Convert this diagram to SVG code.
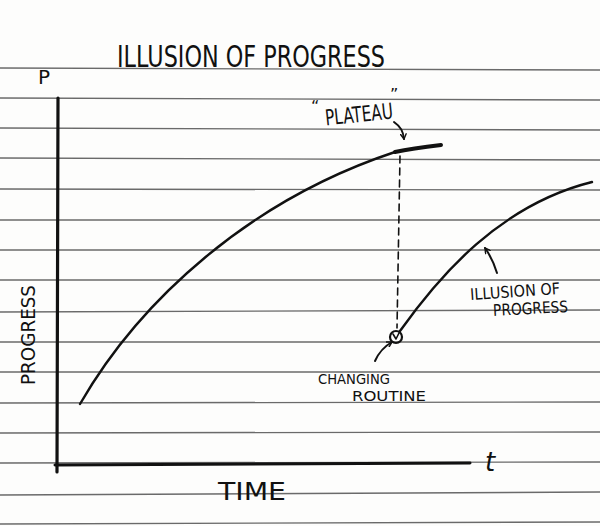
<svg xmlns="http://www.w3.org/2000/svg" width="600" height="526" viewBox="0 0 600 526">
<defs>
<style>
.rule{stroke:#6a6a6a;stroke-width:1.4;fill:none}
.ink{stroke:#111;fill:none;stroke-linecap:round;stroke-linejoin:round}
.txt{font-family:"DejaVu Sans","Liberation Sans",sans-serif;fill:#111}
</style>
<marker id="ah" viewBox="0 0 10 10" refX="8" refY="5" markerWidth="7" markerHeight="7" orient="auto" markerUnits="userSpaceOnUse">
<path d="M1,1 L8,5 L1,9" fill="none" stroke="#111" stroke-width="2" stroke-linecap="round"/>
</marker>
</defs>
<rect width="600" height="526" fill="#fdfdfc"/>
<g id="paper-lines">
<line class="rule" x1="0" y1="68" x2="600" y2="70"/>
<line class="rule" x1="0" y1="98" x2="600" y2="100"/>
<line class="rule" x1="0" y1="128" x2="600" y2="130"/>
<line class="rule" x1="0" y1="158" x2="600" y2="160"/>
<line class="rule" x1="0" y1="189" x2="600" y2="190"/>
<line class="rule" x1="0" y1="220" x2="600" y2="220"/>
<line class="rule" x1="0" y1="250" x2="600" y2="250"/>
<line class="rule" x1="0" y1="280" x2="600" y2="280"/>
<line class="rule" x1="0" y1="312" x2="600" y2="310"/>
<line class="rule" x1="0" y1="342" x2="600" y2="342"/>
<line class="rule" x1="0" y1="372" x2="600" y2="372"/>
<line class="rule" x1="0" y1="403" x2="600" y2="402"/>
<line class="rule" x1="0" y1="433" x2="600" y2="432"/>
<line class="rule" x1="0" y1="463" x2="600" y2="462"/>
<line class="rule" x1="0" y1="495" x2="600" y2="492"/>
<line class="rule" x1="0" y1="524" x2="600" y2="522"/>
</g>
<g id="title"><text class="txt" x="117" y="67" font-size="30" textLength="268" lengthAdjust="spacingAndGlyphs">ILLUSION OF PROGRESS</text></g>
<g id="axes">
<path class="ink" d="M58,98 L57,472" stroke-width="3.2"/>
<path class="ink" d="M55,465 L470,463" stroke-width="3"/>
<text class="txt" x="38" y="84" font-size="20">P</text>
<text class="txt" x="485" y="471" font-size="26" font-style="italic">t</text>
<text class="txt" x="218" y="500" font-size="24" textLength="68" lengthAdjust="spacingAndGlyphs">TIME</text>
<text class="txt" transform="translate(35,385) rotate(-90)" font-size="20" textLength="100" lengthAdjust="spacingAndGlyphs">PROGRESS</text>
</g>
<g id="progress-curve">
<path class="ink" d="M80,404 C140,300 250,200 395,152" stroke-width="2.4"/>
<path class="ink" d="M395,152 C410,149 425,147 441,145" stroke-width="4"/>
</g>
<g id="illusion-curve">
<path class="ink" d="M400,331 C440,275 500,205 592,182" stroke-width="2.4"/>
</g>
<g id="change-point">
<circle cx="396" cy="337" r="6" fill="none" stroke="#111" stroke-width="2.2"/>
<path class="ink" d="M393,334 L396,339 L399,333" stroke-width="1.6"/>
</g>
<g id="plateau-label">
<text class="txt" x="311" y="112" font-size="16">“</text>
<text class="txt" x="325" y="122" font-size="22" textLength="68" lengthAdjust="spacingAndGlyphs" transform="rotate(-6 359 115)">PLATEAU</text>
<text class="txt" x="390" y="100" font-size="16">”</text>
</g>
<g id="changing-label">
<text class="txt" x="318" y="384" font-size="14" textLength="72" lengthAdjust="spacingAndGlyphs">CHANGING</text>
<text class="txt" x="352" y="401" font-size="14" textLength="74" lengthAdjust="spacingAndGlyphs">ROUTINE</text>
</g>
<g id="illusion-label">
<text class="txt" x="470" y="297" font-size="16" textLength="90" lengthAdjust="spacingAndGlyphs" transform="rotate(-4 515 290)">ILLUSION OF</text>
<text class="txt" x="493" y="314" font-size="16" textLength="75" lengthAdjust="spacingAndGlyphs" transform="rotate(-3 530 308)">PROGRESS</text>
</g>
<g id="connectors">
<path class="ink" d="M400,156 L397,328" stroke-width="1.6" stroke-dasharray="7,5"/>
<path class="ink" d="M394,122 C401,127 403,131 404,139" stroke-width="2" marker-end="url(#ah)"/>
<path class="ink" d="M375,361 C379,352 385,346 392,342" stroke-width="2" marker-end="url(#ah)"/>
<path class="ink" d="M497,273 C494,263 490,255 485,248" stroke-width="2" marker-end="url(#ah)"/>
</g>
</svg>
